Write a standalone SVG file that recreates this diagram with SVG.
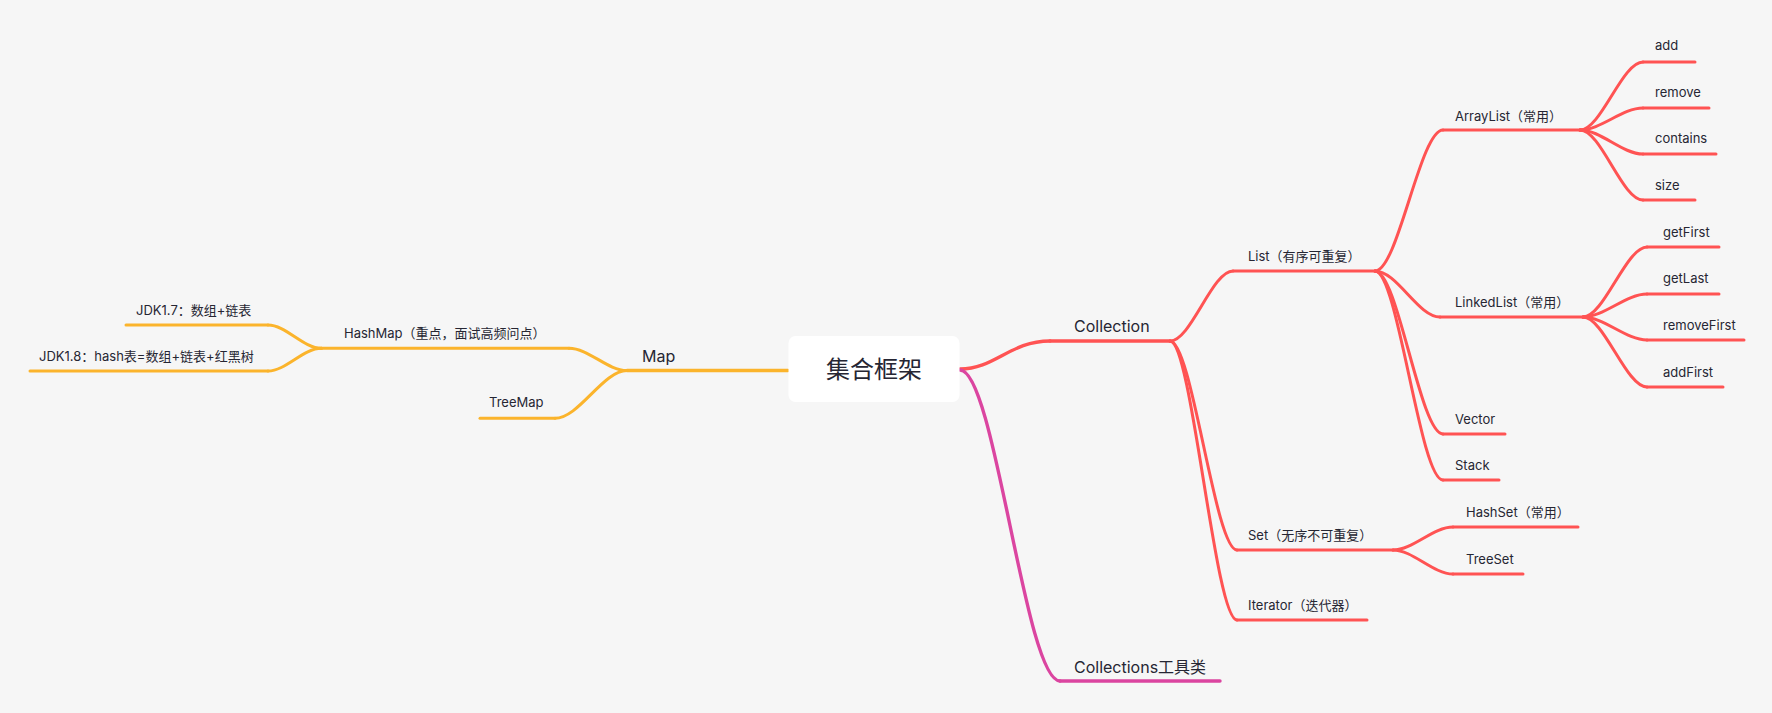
<svg xmlns="http://www.w3.org/2000/svg" width="1772" height="713" viewBox="0 0 1772 713">
<style>
text{font-family:Inter,"Noto Sans CJK SC","Liberation Sans",sans-serif;fill:#262633;font-size:13px}
.main{font-size:16px}
.root{font-size:24px}
.r{stroke:#FF5353;fill:none;stroke-width:3;stroke-linecap:round}
.o{stroke:#FBB42C;fill:none;stroke-width:3;stroke-linecap:round}
.m{stroke:#DB45A0;fill:none;stroke-width:3;stroke-linecap:round}
.w{stroke-width:3.4}
</style>
<rect width="1772" height="713" fill="#F6F6F6"/>
<g id="connectors">
<path class="o w" d="M788 370.5 L627 370.5"/>
<path class="o" d="M627 370.5 C607 370.5 589 348.3 569 348.3"/>
<path class="o" d="M627 370.5 C603 370.5 579 418.3 555 418.3"/>
<path class="o" d="M321.5 348.3 C303 348.3 286 325 268 325"/>
<path class="o" d="M321.5 348.3 C303 348.3 286 371 268 371"/>
<path class="r w" d="M960 369 C995 369 1010 341 1050 341"/>
<path class="r" d="M1170 341 C1191 341 1212 271 1233 271"/>
<path class="r" d="M1170 341 C1192 341 1215 550 1237 550"/>
<path class="r" d="M1170 341 C1192 341 1215 620 1237 620"/>
<path class="r" d="M1375 271 C1398 271 1420 130 1443 130"/>
<path class="r" d="M1375 271 C1397 271 1418 317 1440 317"/>
<path class="r" d="M1375 271 C1398 271 1420 434 1443 434"/>
<path class="r" d="M1375 271 C1398 271 1420 480 1443 480"/>
<path class="r" d="M1580 130 C1601 130 1622 62 1643 62"/>
<path class="r" d="M1580 130 C1601 130 1622 108 1643 108"/>
<path class="r" d="M1580 130 C1601 130 1622 154 1643 154"/>
<path class="r" d="M1580 130 C1601 130 1622 200 1643 200"/>
<path class="r" d="M1583 317 C1604 317 1626 247 1647 247"/>
<path class="r" d="M1583 317 C1604 317 1626 294 1647 294"/>
<path class="r" d="M1583 317 C1604 317 1626 340 1647 340"/>
<path class="r" d="M1583 317 C1604 317 1626 387 1647 387"/>
<path class="r" d="M1393 550 C1413 550 1433 527 1453 527"/>
<path class="r" d="M1393 550 C1413 550 1433 574 1453 574"/>
<path class="m w" d="M960 370 C995 370 1025 681 1060 681"/>
</g>
<g id="root">
<rect x="788.5" y="336" width="171" height="66" rx="7" fill="#FFFFFF"/>
<text class="root" x="874" y="378" text-anchor="middle">集合框架</text>
</g>
<g id="map"><text class="main" x="642" y="362">Map</text></g>
<g id="hashmap"><path class="o" d="M569 348.3 L321.5 348.3"/><text x="344" y="338">HashMap（重点，面试高频问点）</text></g>
<g id="jdk17"><path class="o" d="M268 325 L126 325"/><text x="136" y="315">JDK1.7：数组+链表</text></g>
<g id="jdk18"><path class="o" d="M268 371 L30 371"/><text x="39" y="361">JDK1.8：hash表=数组+链表+红黑树</text></g>
<g id="treemap"><path class="o" d="M555 418.3 L480 418.3"/><text x="489" y="407">TreeMap</text></g>
<g id="collection"><path class="r w" d="M1050 341 L1170 341"/><text class="main" x="1074" y="332">Collection</text></g>
<g id="list"><path class="r" d="M1233 271 L1375 271"/><text x="1248" y="261">List（有序可重复）</text></g>
<g id="arraylist"><path class="r" d="M1443 130 L1580 130"/><text x="1455" y="121">ArrayList（常用）</text></g>
<g id="add"><path class="r" d="M1643 62 L1695 62"/><text x="1655" y="50">add</text></g>
<g id="remove"><path class="r" d="M1643 108 L1709 108"/><text x="1655" y="97">remove</text></g>
<g id="contains"><path class="r" d="M1643 154 L1716 154"/><text x="1655" y="143">contains</text></g>
<g id="size"><path class="r" d="M1643 200 L1695 200"/><text x="1655" y="190">size</text></g>
<g id="linkedlist"><path class="r" d="M1440 317 L1583 317"/><text x="1455" y="307">LinkedList（常用）</text></g>
<g id="getfirst"><path class="r" d="M1647 247 L1719 247"/><text x="1663" y="237">getFirst</text></g>
<g id="getlast"><path class="r" d="M1647 294 L1719 294"/><text x="1663" y="283">getLast</text></g>
<g id="removefirst"><path class="r" d="M1647 340 L1744 340"/><text x="1663" y="330">removeFirst</text></g>
<g id="addfirst"><path class="r" d="M1647 387 L1723 387"/><text x="1663" y="377">addFirst</text></g>
<g id="vector"><path class="r" d="M1443 434 L1505 434"/><text x="1455" y="424">Vector</text></g>
<g id="stack"><path class="r" d="M1443 480 L1499 480"/><text x="1455" y="470">Stack</text></g>
<g id="set"><path class="r" d="M1237 550 L1393 550"/><text x="1248" y="540">Set（无序不可重复）</text></g>
<g id="hashset"><path class="r" d="M1453 527 L1578 527"/><text x="1466" y="517">HashSet（常用）</text></g>
<g id="treeset"><path class="r" d="M1453 574 L1523 574"/><text x="1466" y="564">TreeSet</text></g>
<g id="iterator"><path class="r" d="M1237 620 L1367 620"/><text x="1248" y="610">Iterator（迭代器）</text></g>
<g id="collections"><path class="m w" d="M1060 681 L1220 681"/><text class="main" x="1074" y="673">Collections工具类</text></g>
</svg>
